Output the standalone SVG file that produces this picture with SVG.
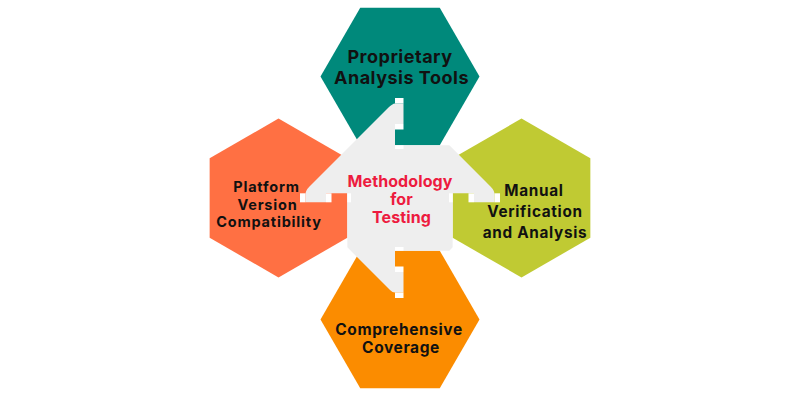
<svg xmlns="http://www.w3.org/2000/svg" width="800" height="400" viewBox="0 0 800 400">
  <style>
    .lbl { font-family: Inter, "Liberation Sans", sans-serif; font-weight: 700; fill: #111111; text-anchor: middle; }
    .ctr { font-family: Inter, "Liberation Sans", sans-serif; font-weight: 700; fill: #ED1B3F; text-anchor: middle; }
    .gap { fill: #FFFFFF; }
  </style>
  <rect width="800" height="400" fill="#FFFFFF"/>
  <g id="node-top">
    <polygon points="320.5,76.5 360.25,7.65 439.75,7.65 479.5,76.5 439.75,145.35 360.25,145.35" fill="#00897B"/>
    <text class="lbl" x="400" y="63.3" font-size="18" letter-spacing="0.5">Proprietary</text>
    <text class="lbl" x="401.5" y="84.3" font-size="18" letter-spacing="0.5">Analysis Tools</text>
  </g>
  <g id="node-left">
    <polygon points="278.5,118.5 347.35,158.25 347.35,237.75 278.5,277.5 209.65,237.75 209.65,158.25" fill="#FF7043"/>
    <text class="lbl" x="266.5" y="191.8" font-size="14.5" letter-spacing="0.8">Platform</text>
    <text class="lbl" x="267.5" y="209.5" font-size="14.5" letter-spacing="0.8">Version</text>
    <text class="lbl" x="269" y="227.2" font-size="14.5" letter-spacing="0.8">Compatibility</text>
  </g>
  <g id="node-right">
    <polygon points="521.5,118.5 590.35,158.25 590.35,237.75 521.5,277.5 452.65,237.75 452.65,158.25" fill="#C0CA33"/>
    <text class="lbl" x="534" y="196" font-size="15.3" letter-spacing="0.7">Manual</text>
    <text class="lbl" x="535" y="217.2" font-size="15.3" letter-spacing="0.7">Verification</text>
    <text class="lbl" x="535" y="238.3" font-size="15.3" letter-spacing="0.7">and Analysis</text>
  </g>
  <g id="node-bottom">
    <polygon points="320.5,319.5 360.25,250.65 439.75,250.65 479.5,319.5 439.75,388.35 360.25,388.35" fill="#FB8C00"/>
    <text class="lbl" x="399" y="335" font-size="15.5" letter-spacing="0.6">Comprehensive</text>
    <text class="lbl" x="401" y="352.7" font-size="15.5" letter-spacing="0.6">Coverage</text>
  </g>
  <g id="node-center">
    <path d="M395,103.5 L403.5,103.5 L403.5,124 L395,124 L395,145.35 L449.35,145.35 L490.5,186.5 Q494.5,190.5 494.5,194.5 L494.5,202.3 L474,202.3 L474,193.3 L452.65,193.3 L452.65,247.35 L449.35,250.65 L395,250.65 L395,272 L403.5,272 L403.5,292.5 L395,292.5 Q392.5,292.5 390,290 L347.35,247.35 L347.35,193.3 L326,193.3 L326,202.3 L305.5,202.3 L305.5,194.5 Q305.5,190.5 309.5,186.5 L388,108 Q392.5,103.5 395,103.5 Z" fill="#EEEEEE"/>
    <text class="ctr" x="400" y="186.7" font-size="16" letter-spacing="0.1">Methodology</text>
    <text class="ctr" x="401.5" y="205" font-size="16" letter-spacing="0.1">for</text>
    <text class="ctr" x="401.5" y="223.3" font-size="16" letter-spacing="0.1">Testing</text>
  </g>
  <g id="connectors">
    <rect class="gap" x="395" y="98" width="8.5" height="5.5"/>
    <rect class="gap" x="395" y="124" width="8.5" height="5.5"/>
    <rect class="gap" x="395" y="145.35" width="8.5" height="3.65"/>
    <rect class="gap" x="395" y="292.5" width="8.5" height="5.5"/>
    <rect class="gap" x="395" y="266.5" width="8.5" height="5.5"/>
    <rect class="gap" x="395" y="247" width="8.5" height="3.65"/>
    <rect class="gap" x="300" y="193.3" width="5.5" height="9"/>
    <rect class="gap" x="326" y="193.3" width="5.5" height="9"/>
    <rect class="gap" x="347.35" y="193.3" width="3.65" height="9"/>
    <rect class="gap" x="494.5" y="193.3" width="5.5" height="9"/>
    <rect class="gap" x="468.5" y="193.3" width="5.5" height="9"/>
    <rect class="gap" x="449" y="193.3" width="3.65" height="9"/>
  </g>
</svg>
